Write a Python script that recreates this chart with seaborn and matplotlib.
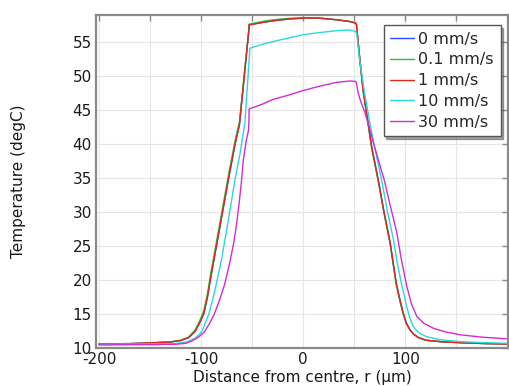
import numpy as np
import pandas as pd
import matplotlib
matplotlib.use("Agg")
import matplotlib.pyplot as plt
import seaborn as sns

# ---------------- data ----------------
speeds = ["0 mm/s", "0.1 mm/s", "1 mm/s", "10 mm/s", "30 mm/s"]
colors = ["#2a4cff", "#2fbf2f", "#e0261e", "#2ad9d9", "#d42ad4"]

r_slow = [-200, -170, -150, -130, -120, -112, -106, -101, -97.5, -94, -91, -85, -79, -73,
          -66.7, -62.5, -53.2, -53, -40, -29.4, -15, 0, 15, 32.7, 45, 50.7, 52, 55, 58.5,
          62, 67, 73.5, 79, 85, 91, 95, 98, 101, 104.6, 108, 112.7, 120, 137, 160, 180, 199.5]
t_0mm = [10.55, 10.6, 10.7, 10.85, 11.05, 11.5, 12.4, 13.8, 15.0, 17.3, 20.0, 25.0, 30.0, 35.0,
         40.0, 42.8, 56.8, 57.45, 57.8, 58.05, 58.3, 58.45, 58.45, 58.2, 57.95, 57.75, 57.6, 53.0, 48.0,
         44.5, 39.5, 34.6, 30.0, 25.5, 19.5, 16.8, 15.0, 13.6, 12.6, 12.0, 11.5, 11.1, 10.85, 10.7, 10.6, 10.55]
t_01mm = [10.55, 10.6, 10.7, 10.85, 11.1, 11.6, 12.6, 14.1, 15.4, 17.8, 20.6, 25.6, 30.6, 35.6,
          40.5, 43.2, 57.0, 57.55, 57.95, 58.2, 58.4, 58.5, 58.45, 58.2, 57.95, 57.75, 57.6, 52.8, 47.8,
          44.3, 39.3, 34.4, 29.8, 25.3, 19.3, 16.6, 14.9, 13.5, 12.55, 11.95, 11.5, 11.1, 10.85, 10.7, 10.6, 10.55]
t_1mm = [10.55, 10.6, 10.7, 10.85, 11.05, 11.5, 12.4, 13.8, 15.0, 17.3, 20.0, 25.0, 30.0, 35.0,
         40.0, 42.8, 56.8, 57.45, 57.8, 58.05, 58.3, 58.45, 58.45, 58.2, 57.95, 57.75, 57.6, 53.0, 48.0,
         44.5, 39.5, 34.6, 30.0, 25.5, 19.5, 16.8, 15.0, 13.6, 12.6, 12.0, 11.5, 11.1, 10.85, 10.7, 10.6, 10.55]

r_10mm = [-200, -150, -125, -114, -106, -101, -98.6, -95, -92.2, -88, -84.3, -80, -76.8, -72,
          -67, -62, -57.2, -52.7, -52.5, -40, -29.4, -15, 0, 15, 32.7, 45, 50.7, 52.3, 55, 60,
          65, 70.5, 76.8, 82.5, 88.2, 92, 96, 101.4, 104.5, 107.8, 113, 121, 135, 153.6, 175, 199.5]
t_10mm = [10.5, 10.55, 10.6, 10.85, 11.4, 12.1, 12.6, 14.0, 15.06, 17.5, 19.95, 23.0, 25.8, 30.0,
          34.6, 38.5, 43.0, 53.0, 54.0, 54.6, 55.0, 55.5, 56.0, 56.3, 56.6, 56.7, 56.5, 56.3, 52.5, 47.5,
          43.2, 39.0, 34.6, 30.0, 26.0, 22.5, 19.5, 16.0, 14.3, 13.1, 12.2, 11.6, 11.15, 10.9, 10.75, 10.65]

r_30mm = [-200, -150, -125, -115, -109, -103, -97, -92, -87, -82, -77, -72, -68, -65,
          -62.5, -60.5, -58.8, -56, -53.6, -53.2, -53, -40, -29.4, -15, 0, 15, 32.7, 45.8, 50.7, 52,
          53.5, 56, 60.5, 64, 68, 73.5, 79.4, 85, 91.5, 96, 101.4, 106, 111.2, 118, 127.5, 140, 153.6, 175, 199.5]
t_30mm = [10.4, 10.45, 10.5, 10.65, 11.0, 11.5, 12.3, 13.5, 15.0, 17.0, 19.3, 22.5, 25.5, 28.5,
          31.7, 34.5, 37.5, 40.3, 42.0, 43.5, 45.1, 45.8, 46.5, 47.1, 47.8, 48.4, 49.0, 49.2, 49.15, 49.0,
          47.6, 46.3, 44.5, 42.8, 40.5, 37.6, 34.6, 31.0, 27.0, 23.0, 19.0, 16.4, 14.6, 13.6, 12.85, 12.3, 11.9, 11.55, 11.3]

x_ticks = [-200, -150, -100, -50, 0, 50, 100, 150]
x_ticklabels = ["-200", "", "-100", "", "0", "", "100", ""]
y_ticks = [10, 15, 20, 25, 30, 35, 40, 45, 50, 55]

# ---------------- frame ----------------
series = [(speeds[0], r_slow, t_0mm), (speeds[1], r_slow, t_01mm), (speeds[2], r_slow, t_1mm),
          (speeds[3], r_10mm, t_10mm), (speeds[4], r_30mm, t_30mm)]
frames = []
for name, rr, tt in series:
    frames.append(pd.DataFrame({"r": rr, "T": tt, "speed": name}))
df = pd.concat(frames, ignore_index=True)

sns.set_theme(style="white")
plt.rcParams["font.family"] = ["DejaVu Sans"]
plt.rcParams["axes.unicode_minus"] = False

fig = plt.figure(figsize=(5.10, 3.86), dpi=100)
ax = fig.add_axes([96 / 510, 1 - 347.7 / 386, 412 / 510, 332.7 / 386])

sns.lineplot(data=df, x="r", y="T", hue="speed", hue_order=speeds,
             palette=dict(zip(speeds, colors)), estimator=None, sort=False,
             linewidth=1.0, ax=ax)

ax.set_xlim(-203, 200.5)
ax.set_ylim(10.0, 58.9)
ax.set_xticks(x_ticks)
ax.set_xticklabels(x_ticklabels)
ax.set_yticks(y_ticks)
ax.grid(True, color="#e6e6e6", linewidth=0.8)
ax.set_axisbelow(True)

for s in ax.spines.values():
    s.set_color("#8a8a8a")
    s.set_linewidth(1.6)
ax.tick_params(axis="both", direction="in", length=4, width=1.0, color="#8a8a8a",
               labelsize=11, labelcolor="#1a1a1a", top=True, right=True, pad=2)
ax.tick_params(axis="x", pad=3)
ax.tick_params(axis="y", pad=3)

ax.set_xlabel("Distance from centre, r (µm)", fontsize=11, color="#1a1a1a")
ax.xaxis.set_label_coords(0.5, -0.066)
ax.set_ylabel("Temperature (degC)", fontsize=11, color="#1a1a1a")
ax.yaxis.set_label_coords(-0.17, 0.5)

handles, labels = ax.get_legend_handles_labels()
leg = ax.legend(handles, labels, loc="upper right", bbox_to_anchor=(0.982, 0.970),
                borderaxespad=0, fontsize=11.5, frameon=True, fancybox=False, shadow=True,
                edgecolor="#555555", framealpha=1, handlelength=1.45, handletextpad=0.3,
                labelspacing=0.36, borderpad=0.42)
leg.get_frame().set_linewidth(1.0)

fig.savefig("out.png", dpi=100)
